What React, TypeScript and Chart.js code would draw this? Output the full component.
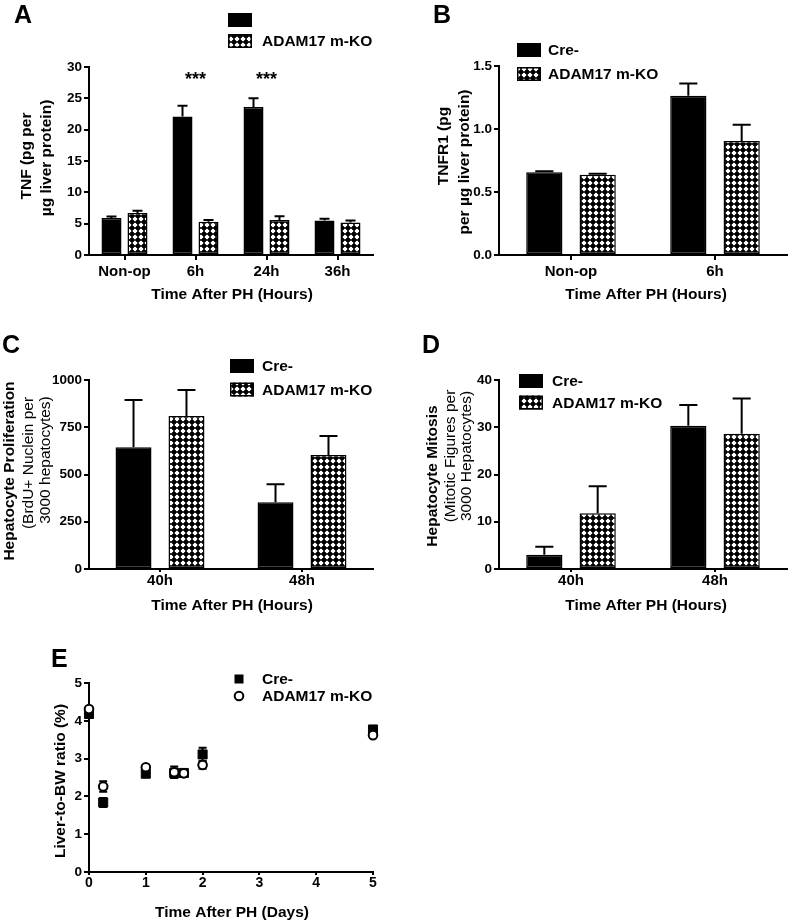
import React, { useEffect, useRef } from 'react';
import { Chart, registerables } from 'chart.js';

Chart.register(...registerables);

const FONT = "'Liberation Sans', Arial, Helvetica, sans-serif";

const seriesNames = ['Cre-', 'ADAM17 m-KO'];

// ---------- Panel A: TNF ----------
const tnfCategories = ['Non-op', '6h', '24h', '36h'];
const tnfCre = [5.9, 22.1, 23.6, 5.5];
const tnfCreSem = [0.25, 1.7, 1.4, 0.3];
const tnfKo = [6.7, 5.3, 5.6, 5.2];
const tnfKoSem = [0.35, 0.3, 0.6, 0.3];
const tnfSignificance = ['', '***', '***', ''];

// ---------- Panel B: TNFR1 ----------
const tnfr1Categories = ['Non-op', '6h'];
const tnfr1Cre = [0.656, 1.264];
const tnfr1CreSem = [0.008, 0.098];
const tnfr1Ko = [0.636, 0.905];
const tnfr1KoSem = [0.008, 0.129];

// ---------- Panel C: proliferation ----------
const prolifCategories = ['40h', '48h'];
const prolifCre = [644, 353];
const prolifCreSem = [250, 95];
const prolifKo = [810, 603];
const prolifKoSem = [137, 101];

// ---------- Panel D: mitosis ----------
const mitosisCategories = ['40h', '48h'];
const mitosisCre = [3.0, 30.3];
const mitosisCreSem = [1.7, 4.4];
const mitosisKo = [11.8, 28.6];
const mitosisKoSem = [5.7, 7.5];

// ---------- Panel E: liver-to-BW ratio ----------
const liverDays = [0, 0.25, 1, 1.5, 1.67, 2, 5];
const liverCre = [4.18, 1.84, 2.6, 2.62, 2.62, 3.11, 3.77];
const liverCreSem = [0.08, 0.12, 0.06, 0.12, 0.08, 0.18, 0.05];
const liverKo = [4.31, 2.26, 2.77, 2.64, 2.61, 2.83, 3.62];
const liverKoSem = [0.05, 0.14, 0.04, 0.15, 0.1, 0.1, 0.04];

type TitleLine = { text: string; bold: boolean; x: number; y: number };
type LegendItem = { kind: 'solid' | 'hatch' | 'square' | 'circle'; label: string; y: number };
type Decor = {
  ox: number;
  oy: number;
  letter: { text: string; x: number; y: number };
  yTitle: TitleLine[];
  xTitle: { text: string; x: number; y: number };
  legendX: number;
  legendTextX: number;
  legend: LegendItem[];
  stars?: { labels: string[]; y: number };
  errors: number[][];
  errMode: 'up' | 'both';
  pattern?: CanvasPattern | null;
};

function makeHatch(ctx: CanvasRenderingContext2D): CanvasPattern | null {
  const s = 6;
  const c = document.createElement('canvas');
  c.width = s;
  c.height = s;
  const g = c.getContext('2d')!;
  const img = g.createImageData(s, s);
  for (let y = 0; y < s; y++) {
    for (let x = 0; x < s; x++) {
      const dd = Math.abs(x + 0.5 - s / 2) + Math.abs(y + 0.5 - s / 2);
      const v = dd <= 2.01 ? 255 : dd <= 3.01 ? 40 : 0;
      const k = (y * s + x) * 4;
      img.data[k] = v;
      img.data[k + 1] = v;
      img.data[k + 2] = v;
      img.data[k + 3] = 255;
    }
  }
  g.putImageData(img, 0, 0);
  return ctx.createPattern(c, 'repeat');
}

function decorPlugin(d: Decor) {
  return {
    id: 'decor',
    beforeDatasetsDraw(chart: any) {
      const ctx = chart.ctx as CanvasRenderingContext2D;
      const ys = chart.scales.y;
      ctx.save();
      ctx.strokeStyle = '#000';
      ctx.lineWidth = 2;
      d.errors.forEach((errs, di) => {
        const meta = chart.getDatasetMeta(di);
        meta.data.forEach((el: any, i: number) => {
          const raw = chart.data.datasets[di].data[i];
          const val = typeof raw === 'number' ? raw : raw.y;
          const e = errs[i];
          if (!e) return;
          const x = el.x;
          const hi = ys.getPixelForValue(val + e);
          const lo = d.errMode === 'both' ? ys.getPixelForValue(val - e) : el.y;
          const cw = d.errMode === 'both' ? 4 : el.width / 4;
          ctx.beginPath();
          ctx.moveTo(x, lo);
          ctx.lineTo(x, hi);
          ctx.moveTo(x - cw, hi);
          ctx.lineTo(x + cw, hi);
          if (d.errMode === 'both') {
            ctx.moveTo(x - cw, lo);
            ctx.lineTo(x + cw, lo);
          }
          ctx.stroke();
        });
      });
      ctx.restore();
    },
    afterDraw(chart: any) {
      const ctx = chart.ctx as CanvasRenderingContext2D;
      const X = (x: number) => x - d.ox;
      const Y = (y: number) => y - d.oy;
      ctx.save();
      ctx.fillStyle = '#000';
      // panel letter
      ctx.font = `bold 25px ${FONT}`;
      ctx.textAlign = 'left';
      ctx.textBaseline = 'alphabetic';
      ctx.fillText(d.letter.text, X(d.letter.x), Y(d.letter.y));
      // y title
      ctx.textAlign = 'center';
      ctx.textBaseline = 'middle';
      for (const t of d.yTitle) {
        ctx.save();
        ctx.font = `${t.bold ? 'bold ' : ''}15.5px ${FONT}`;
        ctx.translate(X(t.x), Y(t.y));
        ctx.rotate(-Math.PI / 2);
        ctx.fillText(t.text, 0, 0);
        ctx.restore();
      }
      // x title
      ctx.font = `bold 15.5px ${FONT}`;
      ctx.fillText(d.xTitle.text, X(d.xTitle.x), Y(d.xTitle.y));
      // legend
      ctx.textAlign = 'left';
      for (const item of d.legend) {
        const bx = X(d.legendX);
        const by = Y(item.y);
        if (item.kind === 'solid' || item.kind === 'hatch') {
          ctx.fillStyle = item.kind === 'solid' ? '#000' : (d.pattern as any);
          ctx.fillRect(bx, by - 7, 24, 14);
          ctx.lineWidth = 1.5;
          ctx.strokeStyle = '#000';
          ctx.strokeRect(bx + 0.75, by - 6.25, 22.5, 12.5);
        } else if (item.kind === 'square') {
          ctx.fillStyle = '#000';
          ctx.fillRect(bx + 12 - 4.5, by - 4.5, 9, 9);
        } else {
          ctx.beginPath();
          ctx.arc(bx + 12, by, 4.3, 0, Math.PI * 2);
          ctx.fillStyle = '#fff';
          ctx.fill();
          ctx.lineWidth = 2;
          ctx.strokeStyle = '#000';
          ctx.stroke();
        }
        ctx.fillStyle = '#000';
        ctx.font = `bold 15.5px ${FONT}`;
        if (item.label) ctx.fillText(item.label, X(d.legendTextX), by + 1);
      }
      // significance stars
      if (d.stars) {
        const xs = chart.scales.x;
        ctx.textAlign = 'center';
        ctx.textBaseline = 'alphabetic';
        ctx.font = `bold 18px ${FONT}`;
        d.stars.labels.forEach((s, i) => {
          if (s) ctx.fillText(s, xs.getPixelForValue(i), Y(d.stars!.y));
        });
      }
      ctx.restore();
    },
  };
}

type Pad = { left: number; right: number; top: number; bottom: number };

function yScaleOpts(max: number, step: number, fmt: (v: number) => string) {
  return {
    min: 0,
    max,
    ticks: {
      stepSize: step,
      color: '#000',
      font: { family: FONT, size: 13.5, weight: 'bold' },
      padding: 2,
      callback: (v: any) => fmt(Number(v)),
    },
    grid: { display: true, drawOnChartArea: false, drawTicks: true, tickLength: 5, color: '#000', lineWidth: 2 },
    border: { display: true, color: '#000', width: 2 },
    afterFit: (s: any) => {
      s.width = 50;
    },
  };
}

function barConfig(
  ctx: CanvasRenderingContext2D,
  labels: string[],
  cre: number[],
  ko: number[],
  creErr: number[],
  koErr: number[],
  yMax: number,
  yStep: number,
  yFmt: (v: number) => string,
  pad: Pad,
  cp: number,
  bp: number,
  xTickLen: number,
  xTickPad: number,
  decor: Decor
): any {
  const pattern = makeHatch(ctx);
  decor.pattern = pattern;
  decor.errors = [creErr, koErr];
  return {
    type: 'bar',
    data: {
      labels,
      datasets: [
        {
          label: seriesNames[0],
          data: cre,
          backgroundColor: '#000',
          borderColor: '#000',
          borderWidth: 1.5,
          borderSkipped: false,
          categoryPercentage: cp,
          barPercentage: bp,
        },
        {
          label: seriesNames[1],
          data: ko,
          backgroundColor: pattern,
          borderColor: '#000',
          borderWidth: 1.5,
          borderSkipped: false,
          categoryPercentage: cp,
          barPercentage: bp,
        },
      ],
    },
    options: {
      responsive: false,
      animation: false,
      events: [],
      layout: { padding: pad },
      plugins: { legend: { display: false }, tooltip: { enabled: false }, title: { display: false } },
      scales: {
        x: {
          offset: true,
          ticks: {
            color: '#000',
            font: { family: FONT, size: 15, weight: 'bold' },
            padding: xTickPad,
            maxRotation: 0,
            autoSkip: false,
          },
          grid: {
            display: true,
            drawOnChartArea: false,
            drawTicks: true,
            tickLength: xTickLen,
            color: '#000',
            lineWidth: 2,
            offset: false,
          },
          border: { display: true, color: '#000', width: 2 },
          afterFit: (s: any) => {
            s.height = 30;
          },
        },
        y: yScaleOpts(yMax, yStep, yFmt),
      },
    },
    plugins: [decorPlugin(decor)],
  };
}

const intFmt = (v: number) => String(Math.round(v));

function buildA(ctx: CanvasRenderingContext2D) {
  return barConfig(ctx, tnfCategories, tnfCre, tnfKo, tnfCreSem, tnfKoSem, 30, 5, intFmt,
    { left: 39, right: 22, top: 67, bottom: 25 }, 0.732, 0.77, 5, 3,
    {
      ox: 0, oy: 0,
      letter: { text: 'A', x: 14, y: 23 },
      yTitle: [
        { text: 'TNF (pg per', bold: true, x: 27, y: 156 },
        { text: 'µg liver protein)', bold: true, x: 47, y: 158 },
      ],
      xTitle: { text: 'Time After PH (Hours)', x: 232, y: 295 },
      legendX: 228, legendTextX: 262,
      legend: [
        { kind: 'solid', label: '', y: 20 },
        { kind: 'hatch', label: seriesNames[1], y: 41 },
      ],
      stars: { labels: tnfSignificance, y: 85 },
      errors: [], errMode: 'up',
    });
}

function buildB(ctx: CanvasRenderingContext2D) {
  return barConfig(ctx, tnfr1Categories, tnfr1Cre, tnfr1Ko, tnfr1CreSem, tnfr1KoSem, 1.5, 0.5, (v) => v.toFixed(1),
    { left: 54, right: 2, top: 66, bottom: 25 }, 0.741, 0.679, 5, 3,
    {
      ox: 395, oy: 0,
      letter: { text: 'B', x: 433, y: 23 },
      yTitle: [
        { text: 'TNFR1 (pg', bold: true, x: 444, y: 146 },
        { text: 'per µg liver protein)', bold: true, x: 465, y: 162 },
      ],
      xTitle: { text: 'Time After PH (Hours)', x: 646, y: 295 },
      legendX: 517, legendTextX: 548,
      legend: [
        { kind: 'solid', label: seriesNames[0], y: 50 },
        { kind: 'hatch', label: seriesNames[1], y: 74 },
      ],
      errors: [], errMode: 'up',
    });
}

function buildC(ctx: CanvasRenderingContext2D) {
  return barConfig(ctx, prolifCategories, prolifCre, prolifKo, prolifCreSem, prolifKoSem, 1000, 250, intFmt,
    { left: 39, right: 22, top: 60, bottom: 21 }, 0.746, 0.679, 3, 0,
    {
      ox: 0, oy: 320,
      letter: { text: 'C', x: 2, y: 353 },
      yTitle: [
        { text: 'Hepatocyte Proliferation', bold: true, x: 10, y: 471 },
        { text: '(BrdU+ Nuclein per', bold: false, x: 29, y: 463 },
        { text: '3000 hepatocytes)', bold: false, x: 46, y: 460 },
      ],
      xTitle: { text: 'Time After PH (Hours)', x: 232, y: 606 },
      legendX: 230, legendTextX: 262,
      legend: [
        { kind: 'solid', label: seriesNames[0], y: 366 },
        { kind: 'hatch', label: seriesNames[1], y: 389.5 },
      ],
      errors: [], errMode: 'up',
    });
}

function buildD(ctx: CanvasRenderingContext2D) {
  return barConfig(ctx, mitosisCategories, mitosisCre, mitosisKo, mitosisCreSem, mitosisKoSem, 40, 10, intFmt,
    { left: 54, right: 2, top: 60, bottom: 21 }, 0.741, 0.679, 3, 0,
    {
      ox: 395, oy: 320,
      letter: { text: 'D', x: 422, y: 353 },
      yTitle: [
        { text: 'Hepatocyte Mitosis', bold: true, x: 433, y: 476 },
        { text: '(Mitotic Figures per', bold: false, x: 451, y: 456 },
        { text: '3000 Hepatocytes)', bold: false, x: 467, y: 456 },
      ],
      xTitle: { text: 'Time After PH (Hours)', x: 646, y: 606 },
      legendX: 519, legendTextX: 552,
      legend: [
        { kind: 'solid', label: seriesNames[0], y: 381 },
        { kind: 'hatch', label: seriesNames[1], y: 402.5 },
      ],
      errors: [], errMode: 'up',
    });
}

function buildE(ctx: CanvasRenderingContext2D): any {
  const decor: Decor = {
    ox: 0, oy: 630,
    letter: { text: 'E', x: 51, y: 667 },
    yTitle: [{ text: 'Liver-to-BW ratio (%)', bold: true, x: 61, y: 781 }],
    xTitle: { text: 'Time After PH (Days)', x: 232, y: 913 },
    legendX: 227, legendTextX: 262,
    legend: [
      { kind: 'square', label: seriesNames[0], y: 679 },
      { kind: 'circle', label: seriesNames[1], y: 696 },
    ],
    errors: [liverCreSem, liverKoSem],
    errMode: 'both',
  };
  return {
    type: 'scatter',
    data: {
      datasets: [
        {
          label: seriesNames[0],
          data: liverDays.map((d, i) => ({ x: d, y: liverCre[i] })),
          pointStyle: 'rect',
          pointRadius: 6.4,
          backgroundColor: '#000',
          borderColor: '#000',
          borderWidth: 1,
          showLine: false,
          clip: false,
          order: 2,
        },
        {
          label: seriesNames[1],
          data: liverDays.map((d, i) => ({ x: d, y: liverKo[i] })),
          pointStyle: 'circle',
          pointRadius: 4.3,
          backgroundColor: '#fff',
          borderColor: '#000',
          borderWidth: 2,
          showLine: false,
          clip: false,
          order: 1,
        },
      ],
    },
    options: {
      responsive: false,
      animation: false,
      events: [],
      layout: { padding: { left: 39, right: 22, top: 53, bottom: 22 } },
      plugins: { legend: { display: false }, tooltip: { enabled: false }, title: { display: false } },
      scales: {
        x: {
          type: 'linear',
          min: 0,
          max: 5,
          ticks: {
            stepSize: 1,
            color: '#000',
            font: { family: FONT, size: 14, weight: 'bold' },
            padding: 0,
            maxRotation: 0,
          },
          grid: { display: true, drawOnChartArea: false, drawTicks: true, tickLength: 3, color: '#000', lineWidth: 2 },
          border: { display: true, color: '#000', width: 2 },
          afterFit: (s: any) => {
            s.height = 30;
          },
        },
        y: yScaleOpts(5, 1, intFmt),
      },
    },
    plugins: [decorPlugin(decor)],
  };
}

function Panel(props: {
  left: number;
  top: number;
  width: number;
  height: number;
  build: (ctx: CanvasRenderingContext2D) => any;
}) {
  const ref = useRef<HTMLCanvasElement>(null);
  useEffect(() => {
    const canvas = ref.current!;
    const ctx = canvas.getContext('2d')!;
    const chart = new Chart(canvas, props.build(ctx));
    return () => chart.destroy();
  }, []);
  return (
    <div style={{ position: 'absolute', left: props.left, top: props.top, width: props.width, height: props.height }}>
      <canvas
        ref={ref}
        width={props.width}
        height={props.height}
        style={{ width: props.width, height: props.height, display: 'block' }}
      />
    </div>
  );
}

export default function App() {
  return (
    <div style={{ position: 'absolute', left: 0, top: 0, width: 789, height: 924, background: '#fff', overflow: 'hidden' }}>
      <Panel left={0} top={0} width={395} height={310} build={buildA} />
      <Panel left={395} top={0} width={394} height={310} build={buildB} />
      <Panel left={0} top={320} width={395} height={300} build={buildC} />
      <Panel left={395} top={320} width={394} height={300} build={buildD} />
      <Panel left={0} top={630} width={395} height={294} build={buildE} />
    </div>
  );
}
